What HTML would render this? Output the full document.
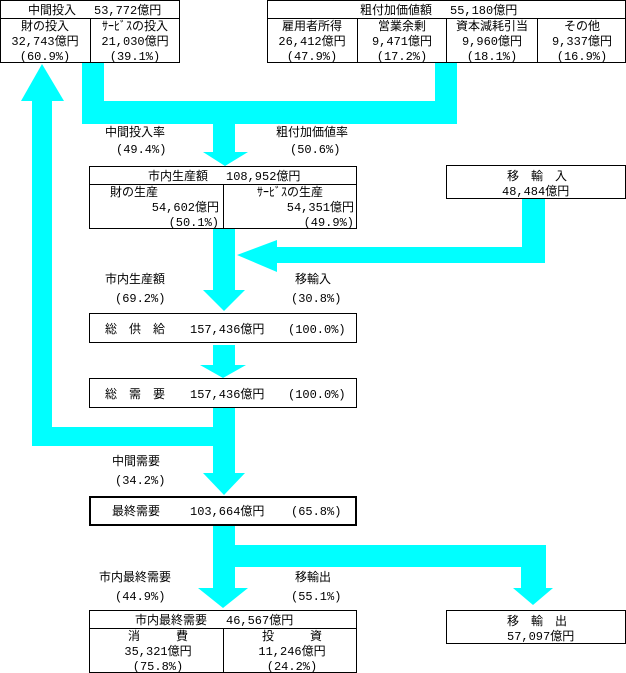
<!DOCTYPE html>
<html><head><meta charset="utf-8"><style>
html,body{margin:0;padding:0;background:#fff;}
svg{display:block;}
text{font-family:"Liberation Mono","Noto Sans CJK JP",monospace;font-size:12px;fill:#000;}
.b{fill:#fff;stroke:#000;stroke-width:1;}
.c{fill:#00ffff;}
</style></head><body>
<svg width="626" height="673" viewBox="0 0 626 673" xmlns="http://www.w3.org/2000/svg">
<!-- cyan flows -->
<rect class="c" x="32" y="100" width="20" height="346"/>
<polygon class="c" points="21,101 64,101 42,64"/>
<rect class="c" x="32" y="427" width="203" height="19"/>
<rect class="c" x="82" y="62" width="22" height="62"/>
<rect class="c" x="82" y="101" width="375" height="23"/>
<rect class="c" x="435" y="62" width="22" height="62"/>
<rect class="c" x="213" y="120" width="22" height="33"/>
<polygon class="c" points="203,152 248,152 225,166"/>
<rect class="c" x="522" y="198" width="23" height="65"/>
<rect class="c" x="275" y="247" width="270" height="16"/>
<polygon class="c" points="277,240 277,272 237,255"/>
<rect class="c" x="213" y="229" width="22" height="62"/>
<polygon class="c" points="203,290 245,290 224,311"/>
<rect class="c" x="213" y="345" width="22" height="21"/>
<polygon class="c" points="200,365 246,365 223,378"/>
<rect class="c" x="213" y="408" width="22" height="66"/>
<polygon class="c" points="203,473 245,473 224,495"/>
<rect class="c" x="213" y="525" width="22" height="64"/>
<rect class="c" x="213" y="545" width="333" height="22"/>
<rect class="c" x="521" y="545" width="25" height="44"/>
<polygon class="c" points="513,588 553,588 533,605"/>
<polygon class="c" points="198,588 248,588 223,608"/>

<!-- top-left box -->
<rect class="b" x="0.5" y="0.5" width="179" height="62"/>
<line x1="0" y1="18.5" x2="180" y2="18.5" stroke="#000"/>
<line x1="90.5" y1="18" x2="90.5" y2="62" stroke="#000"/>
<text x="28" y="14">中間投入</text><text x="94" y="14">53,772億円</text>
<text x="45" y="30" text-anchor="middle">財の投入</text>
<text x="45" y="45" text-anchor="middle">32,743億円</text>
<text x="45" y="60" text-anchor="middle">(60.9%)</text>
<text x="135" y="30" text-anchor="middle">ｻｰﾋﾞｽの投入</text>
<text x="135" y="45" text-anchor="middle">21,030億円</text>
<text x="135" y="60" text-anchor="middle">(39.1%)</text>

<!-- top-right box -->
<rect class="b" x="267.5" y="0.5" width="358" height="62"/>
<line x1="267" y1="18.5" x2="626" y2="18.5" stroke="#000"/>
<line x1="357.5" y1="18" x2="357.5" y2="62" stroke="#000"/>
<line x1="446.5" y1="18" x2="446.5" y2="62" stroke="#000"/>
<line x1="537.5" y1="18" x2="537.5" y2="62" stroke="#000"/>
<text x="360" y="14">粗付加価値額</text><text x="450" y="14">55,180億円</text>
<text x="312" y="30" text-anchor="middle">雇用者所得</text><text x="312" y="45" text-anchor="middle">26,412億円</text><text x="312" y="60" text-anchor="middle">(47.9%)</text>
<text x="402" y="30" text-anchor="middle">営業余剰</text><text x="402" y="45" text-anchor="middle">9,471億円</text><text x="402" y="60" text-anchor="middle">(17.2%)</text>
<text x="492" y="30" text-anchor="middle">資本減耗引当</text><text x="492" y="45" text-anchor="middle">9,960億円</text><text x="492" y="60" text-anchor="middle">(18.1%)</text>
<text x="582" y="30" text-anchor="middle">その他</text><text x="582" y="45" text-anchor="middle">9,337億円</text><text x="582" y="60" text-anchor="middle">(16.9%)</text>

<text x="105" y="136">中間投入率</text><text x="116" y="153">(49.4%)</text>
<text x="276" y="136">粗付加価値率</text><text x="290" y="153">(50.6%)</text>

<!-- production box -->
<rect class="b" x="89.5" y="166.5" width="267" height="62"/>
<line x1="89" y1="184.5" x2="357" y2="184.5" stroke="#000"/>
<line x1="223.5" y1="184" x2="223.5" y2="229" stroke="#000"/>
<text x="148" y="180">市内生産額</text><text x="226" y="180">108,952億円</text>
<text x="134" y="196" text-anchor="middle">財の生産</text>
<text x="219" y="211" text-anchor="end">54,602億円</text>
<text x="219" y="226" text-anchor="end">(50.1%)</text>
<text x="290" y="196" text-anchor="middle">ｻｰﾋﾞｽの生産</text>
<text x="354" y="211" text-anchor="end">54,351億円</text>
<text x="354" y="226" text-anchor="end">(49.9%)</text>

<!-- imports box -->
<rect class="b" x="446.5" y="165.5" width="179" height="33"/>
<text x="507" y="180">移　輸　入</text><text x="502" y="195">48,484億円</text>

<text x="105" y="283">市内生産額</text><text x="115" y="302">(69.2%)</text>
<text x="295" y="283">移輸入</text><text x="291" y="302">(30.8%)</text>

<rect class="b" x="89.5" y="313.5" width="267" height="29"/>
<text x="105" y="333">総　供　給</text><text x="190" y="333">157,436億円</text><text x="288" y="333">(100.0%)</text>

<rect class="b" x="89.5" y="378.5" width="267" height="29"/>
<text x="105" y="398">総　需　要</text><text x="190" y="398">157,436億円</text><text x="288" y="398">(100.0%)</text>

<text x="112" y="465">中間需要</text><text x="115" y="484">(34.2%)</text>

<rect x="90" y="497" width="266" height="28" fill="#fff" stroke="#000" stroke-width="2"/>
<text x="112" y="515">最終需要</text><text x="190" y="515">103,664億円</text><text x="291" y="515">(65.8%)</text>

<text x="99" y="581">市内最終需要</text><text x="115" y="600">(44.9%)</text>
<text x="295" y="581">移輸出</text><text x="291" y="600">(55.1%)</text>

<!-- final domestic demand box -->
<rect class="b" x="89.5" y="610.5" width="267" height="62"/>
<line x1="89" y1="628.5" x2="357" y2="628.5" stroke="#000"/>
<line x1="223.5" y1="628" x2="223.5" y2="673" stroke="#000"/>
<text x="135" y="624">市内最終需要</text><text x="226" y="624">46,567億円</text>
<text x="158" y="640" text-anchor="middle">消　　　費</text>
<text x="158" y="655" text-anchor="middle">35,321億円</text>
<text x="158" y="670" text-anchor="middle">(75.8%)</text>
<text x="292" y="640" text-anchor="middle">投　　　資</text>
<text x="292" y="655" text-anchor="middle">11,246億円</text>
<text x="292" y="670" text-anchor="middle">(24.2%)</text>

<rect class="b" x="446.5" y="610.5" width="179" height="33"/>
<text x="507" y="625">移　輸　出</text><text x="507" y="640">57,097億円</text>
</svg>
</body></html>
